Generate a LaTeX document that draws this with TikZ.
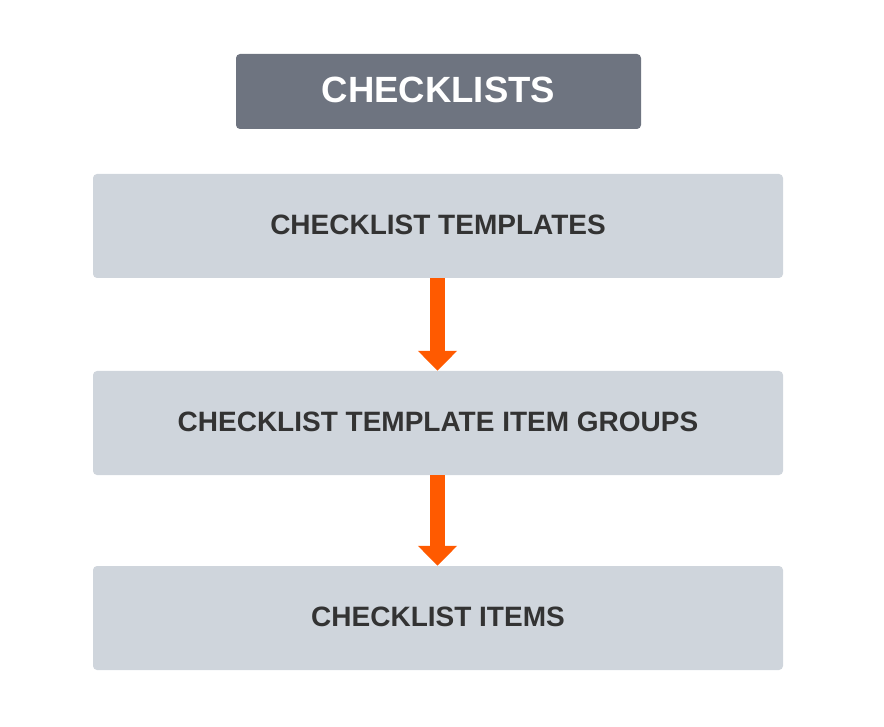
\documentclass[tikz,border=0pt]{standalone}
\usepackage{fontspec}
\setmainfont{Liberation Sans}
\usetikzlibrary{arrows.meta}
\definecolor{titlegray}{HTML}{6E7480}
\definecolor{boxgray}{HTML}{CFD5DC}
\definecolor{arroworange}{HTML}{FF5A00}
\definecolor{textdark}{HTML}{333333}
\tikzset{
  titlebox/.style={fill=titlegray, rounded corners=4pt, minimum width=405pt, minimum height=75pt, inner sep=0pt, text=white, font=\fontsize{36.5}{40}\selectfont\bfseries},
  levelbox/.style={fill=boxgray, rounded corners=4pt, minimum width=690pt, minimum height=104pt, inner sep=0pt, text=textdark, font=\fontsize{28}{32}\selectfont\bfseries},
  flowarrow/.style={draw=arroworange, line width=15pt, -{Triangle[width=38pt,length=20pt,fill=arroworange]}}
}
\begin{document}
\begin{tikzpicture}[x=1pt,y=-1pt]
\useasboundingbox (0,0) rectangle (884,727);
\node[titlebox] (title) at (438.5,91.5) {\raisebox{3pt}{CHECKLISTS}};
\node[levelbox] (templates) at (438,226) {\raisebox{2pt}{CHECKLIST TEMPLATES}};
\node[levelbox] (groups) at (438,423) {\raisebox{2pt}{CHECKLIST TEMPLATE ITEM GROUPS}};
\node[levelbox] (items) at (438,618) {\raisebox{2pt}{CHECKLIST ITEMS}};
\draw[flowarrow] ([xshift=-0.5pt]templates.south) -- ([xshift=-0.5pt]groups.north);
\draw[flowarrow] ([xshift=-0.5pt]groups.south) -- ([xshift=-0.5pt]items.north);
\end{tikzpicture}
\end{document}
